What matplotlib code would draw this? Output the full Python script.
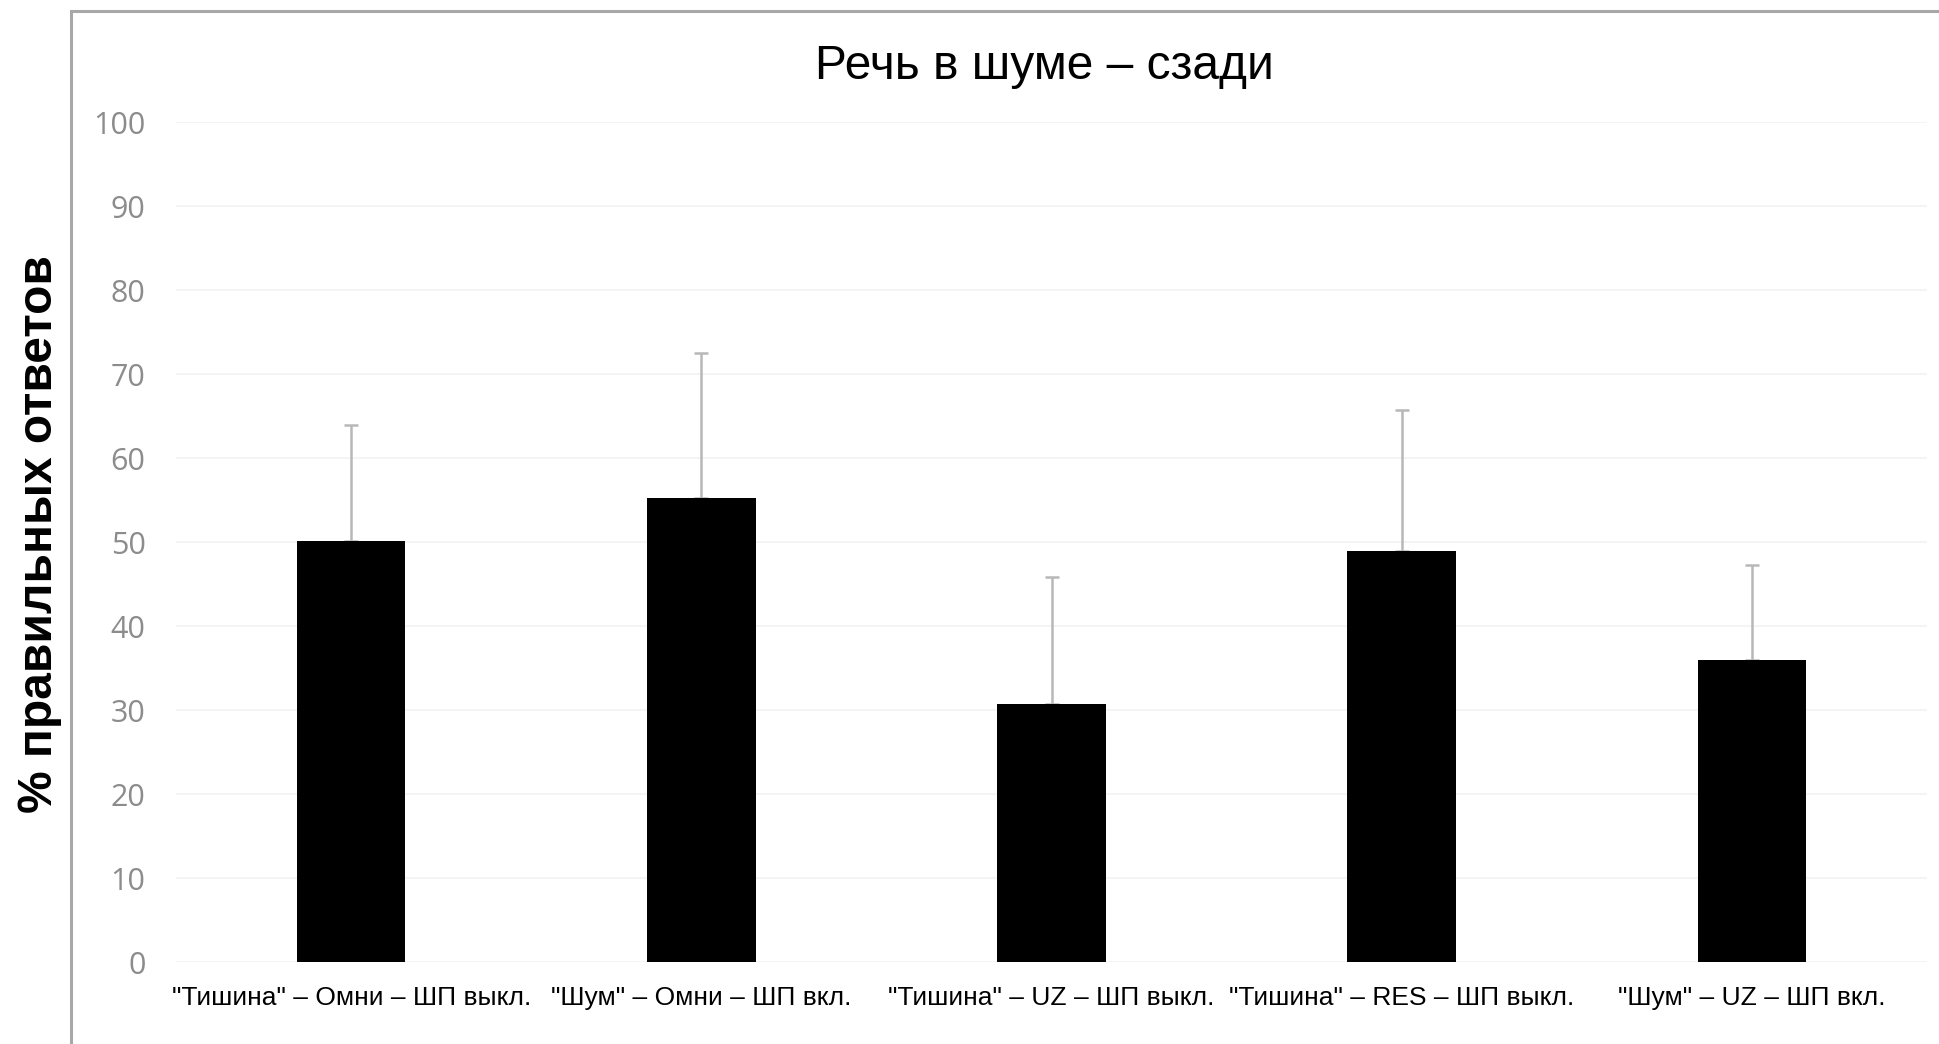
import numpy as np
import matplotlib.pyplot as plt
from matplotlib.patches import Rectangle

# Речь в шуме - сзади: средний % правильных ответов и разброс
categories = ['"Тишина" – Омни – ШП выкл.',
              '"Шум" – Омни – ШП вкл.',
              '"Тишина" – UZ – ШП выкл.',
              '"Тишина" – RES – ШП выкл.',
              '"Шум" – UZ – ШП вкл.']
means = [50.1, 55.3, 30.7, 48.9, 36.0]
errors = [13.9, 17.2, 15.1, 16.8, 11.3]
yticks = [0, 10, 20, 30, 40, 50, 60, 70, 80, 90, 100]

fig = plt.figure(figsize=(19.39, 10.44), dpi=100)
ax = fig.add_axes([0.0908, 0.0785, 0.903, 0.8043])

x = np.arange(len(categories))
ax.bar(x, means, width=0.31, color='black', zorder=3)
ax.errorbar(x, means, yerr=[np.zeros(len(errors)), errors], fmt='none',
            ecolor='#b8b8b8', elinewidth=1.8, capsize=5, capthick=1.8, zorder=2)

ax.set_xlim(-0.5, len(categories) - 0.5)
ax.set_ylim(0, 100)
ax.set_yticks(yticks)
ax.set_xticks(x)
ax.set_xticklabels(categories, fontsize=19, family='Liberation Sans', color='black')
for lbl in ax.get_yticklabels():
    lbl.set_fontfamily('Open Sans')
    lbl.set_fontsize(22)
    lbl.set_color('#8c8c8c')
ax.tick_params(axis='both', length=0)
ax.tick_params(axis='y', pad=22)
ax.tick_params(axis='x', pad=17)
ax.yaxis.grid(True, color='#f2f2f2', linewidth=1.2, zorder=0)
for s in ax.spines.values():
    s.set_visible(False)

fig.text(0.5385, 0.936, 'Речь в шуме – сзади', ha='center', va='center',
         fontsize=34.5, family='Liberation Sans')
fig.text(0.0205, 0.4885, '% правильных ответов', rotation=90, ha='center', va='center',
         fontsize=34.5, fontweight='bold', family='Liberation Sans')

# серая рамка вокруг области графика
fig.patches.append(Rectangle((71 / 1939, -0.05), 1.2, 1 - 11 / 1044 + 0.05,
                             transform=fig.transFigure, fill=False,
                             edgecolor='#a8a8a8', linewidth=2.2))

fig.savefig('out.png', dpi=100)
